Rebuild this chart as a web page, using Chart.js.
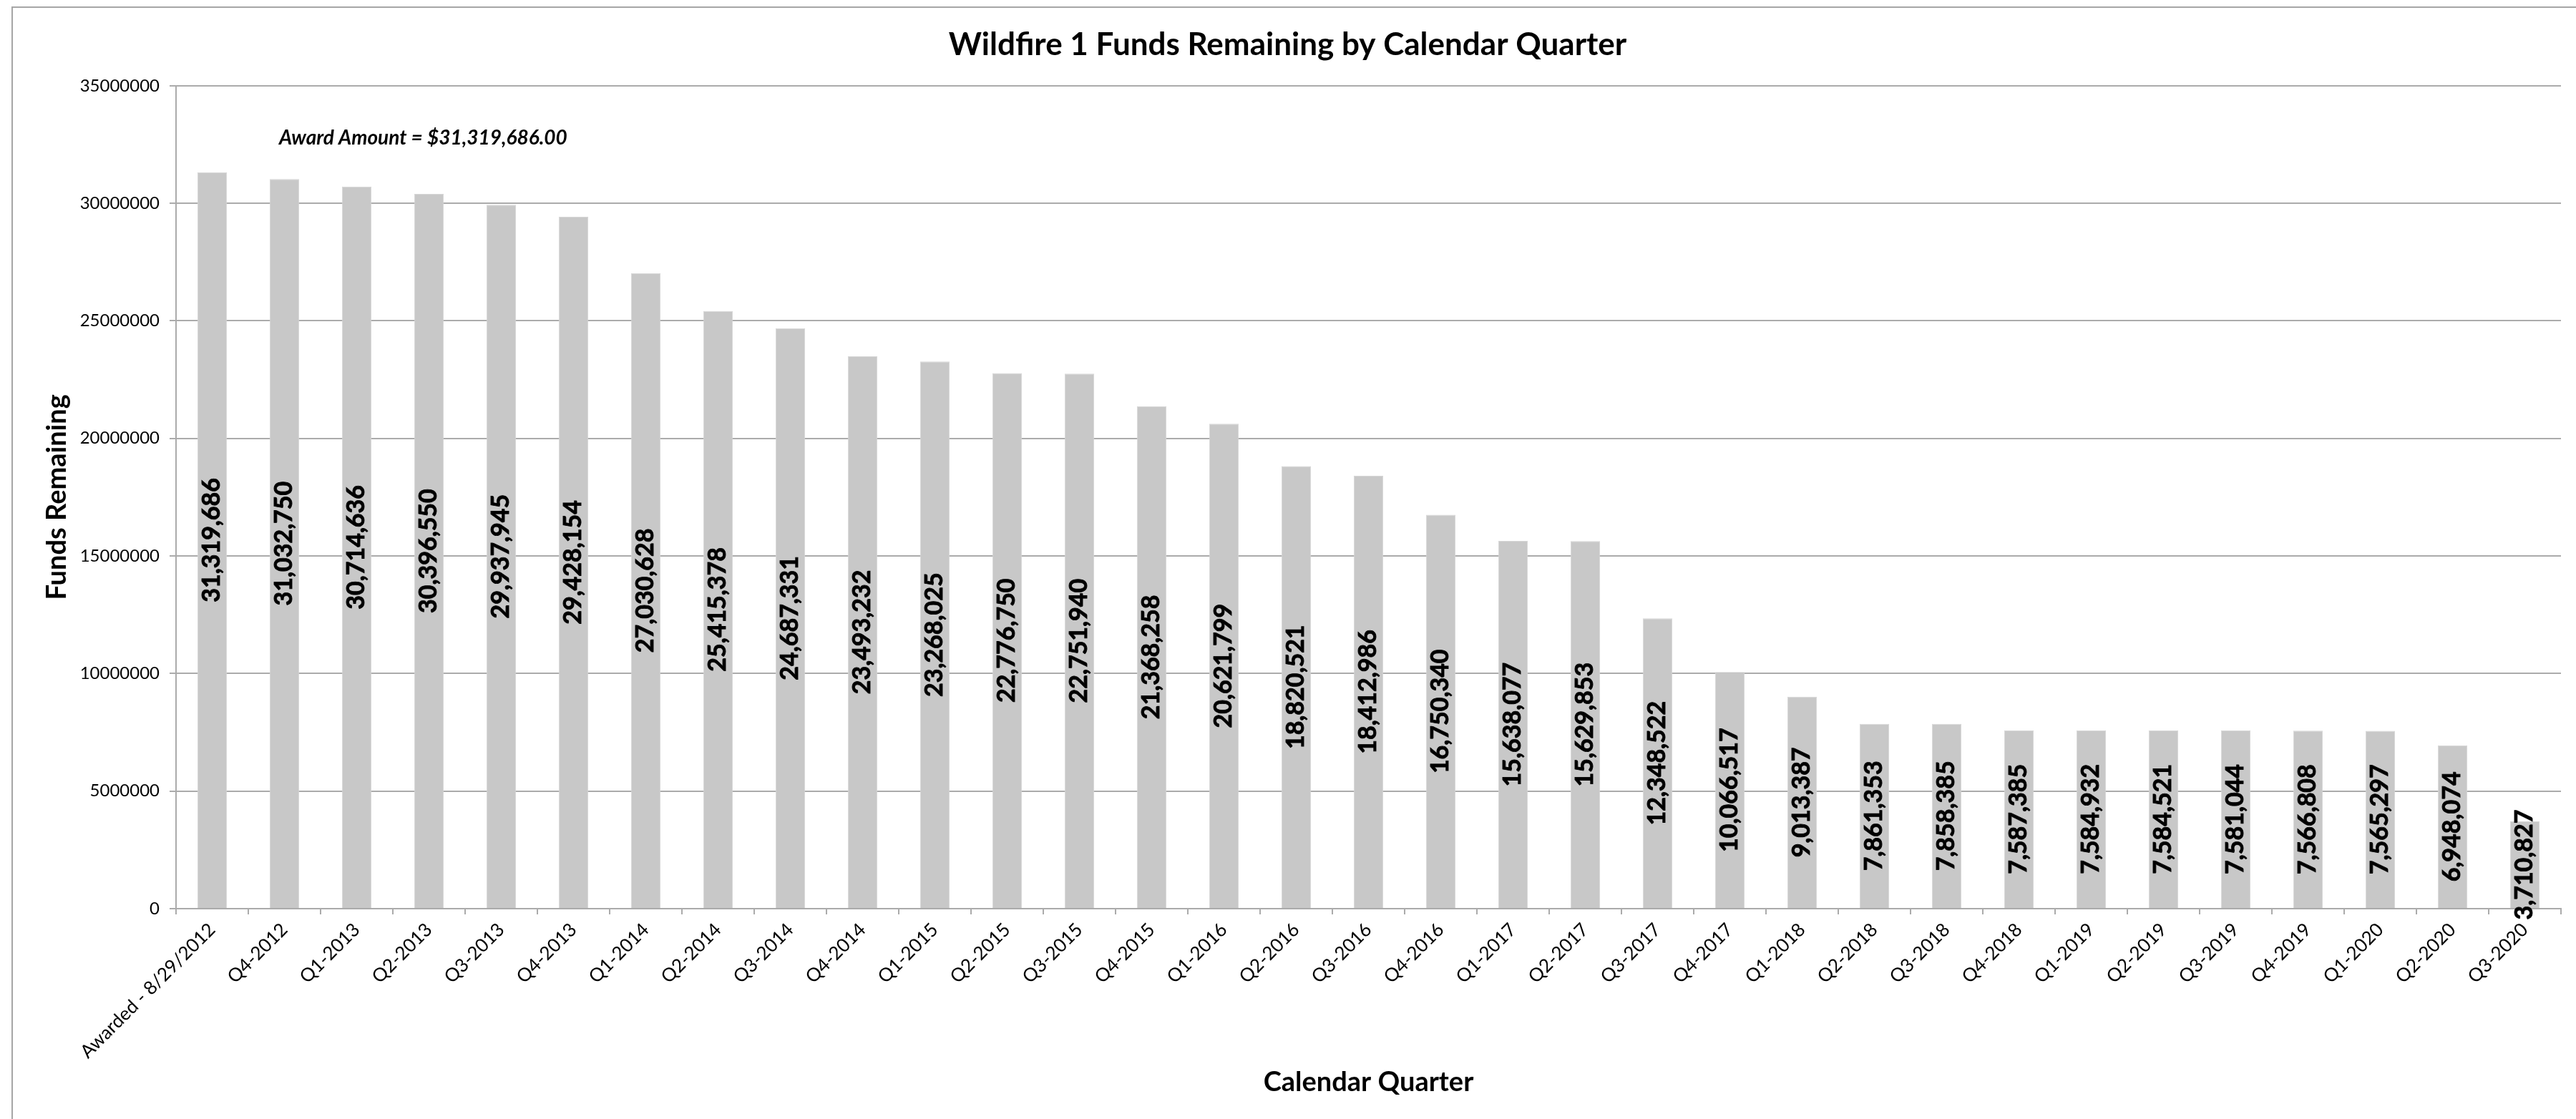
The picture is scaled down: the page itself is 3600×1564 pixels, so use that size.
<!DOCTYPE html>
<html>
<head>
<meta charset="utf-8">
<title>Wildfire 1 Funds Remaining by Calendar Quarter</title>
<script src="https://cdn.jsdelivr.net/npm/chart.js@4.4.1/dist/chart.umd.min.js"></script>
<style>
  html, body { margin: 0; padding: 0; background: #fff; }
  .chart-area { position: relative; width: 3600px; height: 1564px; }
</style>
</head>
<body>
<div class="chart-area"><canvas id="chartFunds"></canvas></div>
<script>
/***** 1) DADOS *****/
const quarters = [
  "Awarded - 8/29/2012", "Q4-2012",
  "Q1-2013", "Q2-2013", "Q3-2013", "Q4-2013",
  "Q1-2014", "Q2-2014", "Q3-2014", "Q4-2014",
  "Q1-2015", "Q2-2015", "Q3-2015", "Q4-2015",
  "Q1-2016", "Q2-2016", "Q3-2016", "Q4-2016",
  "Q1-2017", "Q2-2017", "Q3-2017", "Q4-2017",
  "Q1-2018", "Q2-2018", "Q3-2018", "Q4-2018",
  "Q1-2019", "Q2-2019", "Q3-2019", "Q4-2019",
  "Q1-2020", "Q2-2020", "Q3-2020"
];

const fundsRemaining = [
  31319686, 31032750,
  30714636, 30396550, 29937945, 29428154,
  27030628, 25415378, 24687331, 23493232,
  23268025, 22776750, 22751940, 21368258,
  20621799, 18820521, 18412986, 16750340,
  15638077, 15629853, 12348522, 10066517,
  9013387, 7861353, 7858385, 7587385,
  7584932, 7584521, 7581044, 7566808,
  7565297, 6948074, 3710827
];

const yTicks = [0, 5000000, 10000000, 15000000, 20000000, 25000000, 30000000, 35000000];

const chartTitle = "Wildfire 1 Funds Remaining by Calendar Quarter";
const xTitle = "Calendar Quarter";
const yTitle = "Funds Remaining";
const awardNote = "Award Amount = $31,319,686.00";

/***** 2) ESTILO *****/
const FONT = "Lato, 'Open Sans', sans-serif";
const GRID = "#ababab";
const BAR  = "#c8c8c8";

/***** 3) PLUGINS *****/
// moldura do gráfico (só esquerda e topo aparecem no recorte)
const framePlugin = {
  id: "frame",
  beforeDraw(chart){
    const ctx = chart.ctx;
    ctx.save();
    ctx.fillStyle = "#fff";
    ctx.fillRect(0, 0, chart.width, chart.height);
    ctx.strokeStyle = "#a6a6a6";
    ctx.lineWidth = 2;
    ctx.beginPath();
    ctx.moveTo(17, chart.height);
    ctx.lineTo(17, 10);
    ctx.lineTo(chart.width, 10);
    ctx.stroke();
    ctx.restore();
  }
};

// rótulos de valor, girados, no meio de cada barra
const valueLabels = {
  id: "valueLabels",
  afterDatasetsDraw(chart){
    const ctx = chart.ctx;
    const meta = chart.getDatasetMeta(0);
    ctx.save();
    ctx.fillStyle = "#000";
    ctx.strokeStyle = "#000";
    ctx.lineWidth = 0.9;
    ctx.font = `bold 34px ${FONT}`;
    ctx.textAlign = "center";
    ctx.textBaseline = "middle";
    meta.data.forEach((bar, i) => {
      const txt = chart.data.datasets[0].data[i].toLocaleString("en-US");
      const cy = (bar.y + bar.base) / 2;
      ctx.save();
      ctx.translate(bar.x, cy);
      ctx.rotate(-Math.PI / 2);
      ctx.fillText(txt, 0, 0);
      ctx.strokeText(txt, 0, 0);   // engrossa um pouco (Calibri bold é mais pesada)
      ctx.restore();
    });
    ctx.restore();
  }
};

// nota do valor concedido
const awardPlugin = {
  id: "awardNote",
  afterDraw(chart){
    const ctx = chart.ctx;
    const a = chart.chartArea;
    ctx.save();
    ctx.fillStyle = "#000";
    ctx.font = `italic bold 28px ${FONT}`;
    ctx.textAlign = "left";
    ctx.textBaseline = "middle";
    ctx.fillText(awardNote, a.left + 144, a.top + 73);
    ctx.restore();
  }
};

/***** 4) GRÁFICO *****/
const ctx = document.getElementById("chartFunds").getContext("2d");
new Chart(ctx, {
  type: "bar",
  data: {
    labels: quarters,
    datasets: [{
      label: yTitle,
      data: fundsRemaining,
      backgroundColor: BAR,
      borderColor: "#d6d6d6",
      borderWidth: 1,
      barPercentage: 0.41,
      categoryPercentage: 1
    }]
  },
  options: {
    responsive: true,
    maintainAspectRatio: false,
    devicePixelRatio: 1,
    animation: false,
    layout: { padding: { left: 20, right: 21, top: 12, bottom: 20 } },
    plugins: {
      legend: { display: false },
      tooltip: { enabled: false },
      title: {
        display: true,
        text: chartTitle,
        color: "#000",
        font: { family: FONT, size: 44, weight: "bold" },
        padding: { top: 24, bottom: 31 }
      }
    },
    scales: {
      x: {
        grid: { display: true, drawOnChartArea: false, drawTicks: true, tickLength: 8, color: GRID, lineWidth: 2, offset: true },
        border: { display: true, color: GRID, width: 2 },
        ticks: {
          color: "#000",
          font: { family: FONT, size: 26 },
          minRotation: 45,
          maxRotation: 45,
          autoSkip: false,
          padding: 6
        },
        title: {
          display: true,
          text: xTitle,
          color: "#000",
          font: { family: FONT, size: 38, weight: "bold" },
          padding: { top: 0, bottom: 8 }
        },
        afterFit(scale){ scale.height = 274; }
      },
      y: {
        min: 0,
        max: yTicks[yTicks.length - 1],
        afterBuildTicks(scale){ scale.ticks = yTicks.map(v => ({ value: v })); },
        grid: { color: GRID, lineWidth: 2, tickLength: 9 },
        border: { display: true, color: GRID, width: 2 },
        ticks: {
          color: "#000",
          font: { family: FONT, size: 24 },
          padding: 14,
          callback: (v) => String(v)
        },
        title: {
          display: true,
          text: yTitle,
          color: "#000",
          font: { family: FONT, size: 38, weight: "bold" },
          padding: { top: 37, bottom: 0 }
        },
        afterFit(scale){ scale.width = 226; }
      }
    }
  },
  plugins: [framePlugin, valueLabels, awardPlugin]
});
</script>
</body>
</html>
